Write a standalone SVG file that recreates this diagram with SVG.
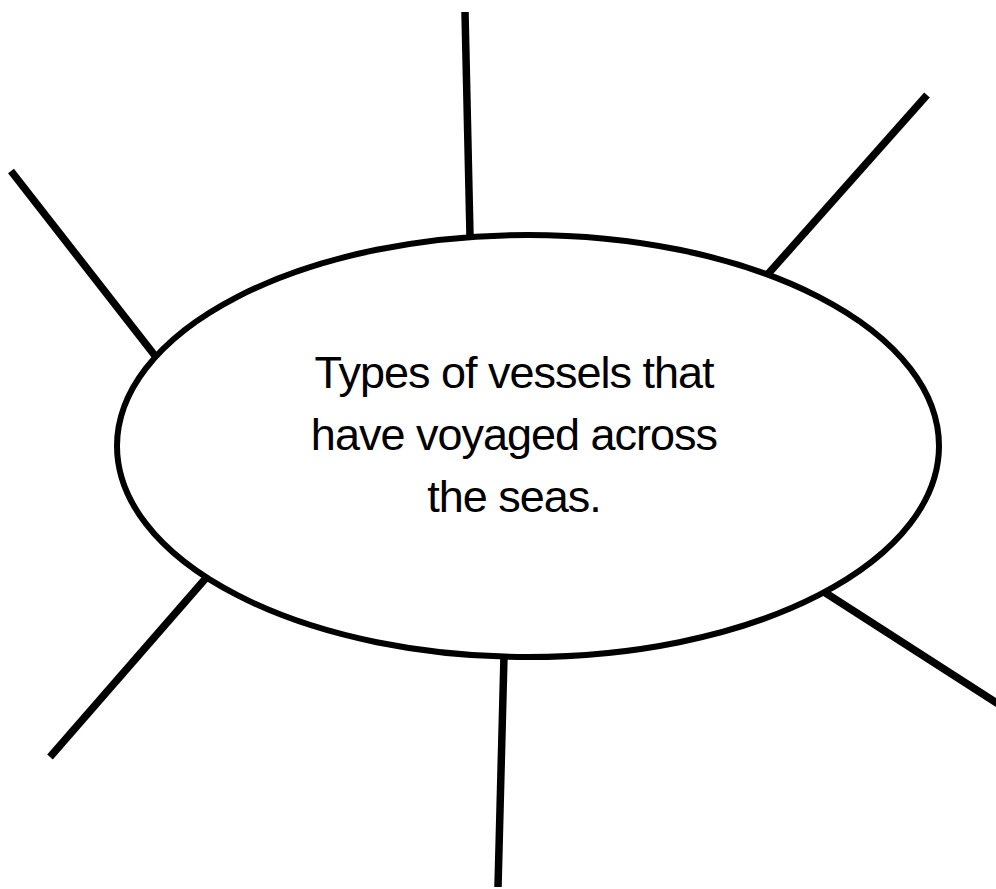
<svg xmlns="http://www.w3.org/2000/svg" width="996" height="889" viewBox="0 0 996 889">
<style>
.ln{stroke:#000;stroke-width:7.5;fill:none;stroke-linecap:butt}
.el{stroke:#000;stroke-width:6;fill:#fff}
.t{font-family:"Liberation Sans",Arial,sans-serif;font-size:45px;letter-spacing:-1px;fill:#000;text-anchor:middle}
</style>
<rect width="996" height="889" fill="#fff"/>
<g id="connectors">
<line class="ln" x1="465" y1="12" x2="470" y2="236"/>
<line class="ln" x1="927" y1="95" x2="768" y2="274"/>
<line class="ln" x1="11" y1="171" x2="156" y2="357"/>
<line class="ln" x1="206" y1="578" x2="50" y2="757"/>
<line class="ln" x1="504" y1="656" x2="498" y2="887"/>
<line class="ln" x1="821" y1="590" x2="1000" y2="705"/>
</g>
<g id="center">
<ellipse class="el" cx="528" cy="446" rx="411" ry="211"/>
<text class="t" x="514" y="388">Types of vessels that</text>
<text class="t" x="514" y="450">have voyaged across</text>
<text class="t" x="514" y="512">the seas.</text>
</g>
</svg>
